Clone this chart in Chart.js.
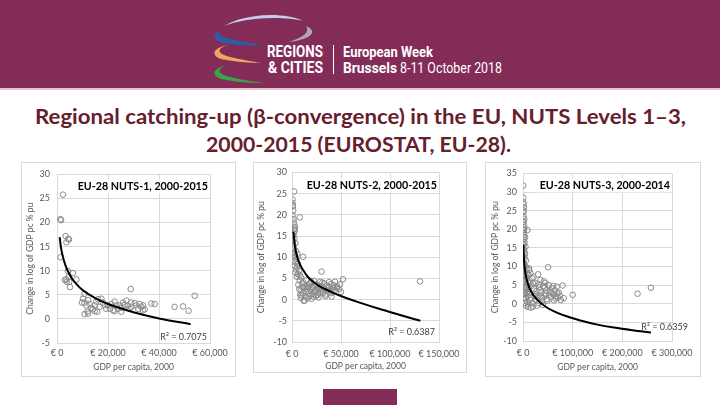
<!DOCTYPE html>
<html>
<head>
<meta charset="utf-8">
<title>Regional catching-up</title>
<script src="https://cdn.jsdelivr.net/npm/chart.js@4.4.1/dist/chart.umd.min.js"></script>
<style>
  html, body { margin: 0; padding: 0; }
  body { width: 720px; height: 405px; position: relative; overflow: hidden; background: #fff; }
  .abs { position: absolute; white-space: nowrap; transform-origin: 0 0; }
  #banner { left: 0; top: 0; width: 720px; height: 88px; background: #842c58; }
  #bannerEdge { left: 0; top: 88px; width: 720px; height: 2px; background: #e7c4d4; }
  .logo { font-family: Roboto, sans-serif; color: #fff; }
  .ttl { font: bold 21px/25px Lato, sans-serif; color: #66202c; }
  .panel { border: 1px solid #d9d9d9; box-sizing: border-box; }
  #footBar { left: 323px; top: 389px; width: 74px; height: 16px; background: #842c58; }
</style>
</head>
<body>
<div id="banner" class="abs"></div>
<div id="bannerEdge" class="abs"></div>
<svg class="abs" style="left:0;top:0" width="720" height="88">
  <path d="M224,26 C245,13 285,12 303,21 C285,16 245,17 224,26 Z" fill="#c4cce9"/>
  <path d="M227,29 C213,32 210,38 221,42 C234,46 250,46 263,45 C248,43 232,40 224,37 C217,34 218,31 227,29 Z" fill="#2d5ca8"/>
  <path d="M306,26 C318,31 313,39 289,42 C304,37 310,32 306,26 Z" fill="#a8a9b3"/>
  <path d="M228,45 C213,48 210,55 221,59 C234,62 250,63 263,63 C248,61 232,58 224,55 C217,52 218,48 228,45 Z" fill="#f3a465"/>
  <path d="M228,65 C213,68 210,75 221,79 C234,82 250,83 264,83 C248,81 232,78 224,75 C217,72 218,68 228,65 Z" fill="#3ca24c"/>
  <line x1="333.5" y1="45" x2="333.5" y2="74" stroke="#fff" stroke-width="1"/>
</svg>
<div class="abs logo" data-w="56" style="left:267px;top:41px;font-weight:bold;font-size:17px;line-height:20px">REGIONS</div>
<div class="abs logo" data-w="55" style="left:268px;top:57px;font-weight:bold;font-size:17px;line-height:20px">&amp; CITIES</div>
<div class="abs logo" data-w="90" style="left:343px;top:43px;font-weight:bold;font-size:15px;line-height:18px">European Week</div>
<div class="abs logo" data-w="54" style="left:343px;top:59px;font-weight:bold;font-size:15px;line-height:18px">Brussels</div>
<div class="abs logo" data-w="102" style="left:400px;top:59px;font-size:15px;line-height:18px">8-11 October 2018</div>

<div class="abs ttl" data-w="651" style="left:35px;top:103px">Regional catching-up (β-convergence) in the EU, NUTS Levels 1–3,</div>
<div class="abs ttl" data-w="305" style="left:206px;top:131px">2000-2015 (EUROSTAT, EU-28).</div>

<div class="abs panel" style="left:21px;top:162px;width:215px;height:215px"></div>
<div class="abs panel" style="left:253px;top:162px;width:214px;height:211px"></div>
<div class="abs panel" style="left:485px;top:162px;width:216px;height:215px"></div>
<canvas id="c1" class="abs" width="215" height="215" style="left:21px;top:162px"></canvas>
<canvas id="c2" class="abs" width="214" height="211" style="left:253px;top:162px"></canvas>
<canvas id="c3" class="abs" width="216" height="215" style="left:485px;top:162px"></canvas>

<div id="footBar" class="abs"></div>

<script>
// NUTS-1 regions: GDP per capita 2000 (EUR) and change in log GDP pc (% pu)
const nuts1X = [2350, 1300, 1600, 3400, 4400, 3700, 4700, 1400, 4300, 6300, 4600, 3100, 4800, 3800, 5100, 3700, 7600,
  10800, 10200, 9800, 10800, 12200, 12800, 11500, 13500, 14800, 15400, 16100, 17400, 18000, 18700, 20000, 20700,
  21300, 22600, 23300, 23900, 25200, 26500, 27200, 27800, 29100, 30500, 31100, 31800, 32400, 33700, 34400, 33100,
  29100, 25900, 24600, 22000, 19300, 16700, 14800, 14100, 12200, 10800, 11900, 15800, 22600, 25200, 28500, 33700,
  28900, 37000, 38300, 46100, 49400, 51600, 54000];
const nuts1Y = [25.8, 20.7, 20.5, 17.2, 16.6, 15.9, 16.5, 12.8, 9.9, 9.5, 8.7, 8.1, 7.7, 7.7, 6.6, 8.2, 8.2,
  5.2, 4.2, 3.4, 3.4, 3.9, 3.1, 2.8, 2.3, 2.8, 3.6, 4.1, 4.2, 3.4, 2.9, 2.8, 2.1,
  3.1, 3.6, 2.8, 2.1, 2.3, 2.9, 3.8, 2.8, 2.5, 3.3, 2.8, 2.1, 3.1, 2.8, 2.0, 2.5,
  3.4, 3.4, 2.8, 1.8, 2.1, 2.5, 1.6, 2.0, 1.1, 1.0, 1.5, 1.5, 1.6, 1.5, 2.1, 1.8,
  6.2, 3.2, 3.1, 2.5, 2.6, 1.7, 4.8];
const nuts1TrendX = [1050, 1500, 2000, 3000, 4000, 6000, 8000, 10000, 15000, 20000, 30000, 40000, 52400];
const nuts1TrendY = [17.0, 15.0, 13.6, 11.6, 10.2, 8.3, 7.0, 6.0, 4.3, 3.1, 1.4, 0.1, -1.1];

// NUTS-2 regions
const nuts2X = [2050, 500, 500, 800, 1000, 1200, 500, 1500, 2000, 2500, 3000, 2200, 2800, 1800, 1200, 2500, 1000, 3500,
  1500, 2000, 4000, 1200, 3000, 5500, 2500, 4500, 1800, 3500, 6000, 2800, 5000, 4000, 7000, 3500, 6000, 8000, 5000,
  9000, 7900, 11300,
  7900, 10300, 12300, 8900, 11000, 13700, 15800, 13000, 17100, 19200, 20600, 18500, 22600, 25000, 27400, 29500,
  31500, 33600, 35600, 37700, 39700, 41800, 43800, 45900, 47900, 50000, 26000, 21900, 28800, 32900, 36300, 39700,
  16400, 24000, 30100, 43800, 49000, 19900, 34200, 40400, 9500, 14500, 16000, 23000, 27000, 12000,
  6500, 7500, 8500, 9000, 10500, 11500, 13500, 14000, 15000, 17500, 18000, 19500, 21000, 22000, 23500, 24500,
  26500, 28000, 29000, 31000, 34000, 36000, 38000, 41000, 42500,
  30100, 52000, 130600, 46000];
const nuts2Y = [25.5, 23.6, 22.8, 22.2, 22.0, 21.0, 19.9, 19.0, 18.2, 17.5, 17.0, 16.6, 16.2, 15.6, 15.0, 14.4, 13.8, 13.3,
  12.8, 12.0, 11.5, 11.0, 10.5, 10.8, 10.0, 9.6, 9.2, 8.8, 8.5, 8.0, 7.6, 7.1, 6.8, 6.4, 6.0, 5.8, 5.4,
  5.3, 19.4, 10.1,
  4.5, 3.8, 2.8, 2.1, 1.5, 0.8, 0.3, -0.2, 1.5, 2.2, 3.0, 3.9, 4.4, 3.6, 2.8, 2.1,
  1.5, 2.4, 3.3, 4.1, 3.6, 2.8, 2.2, 3.2, 2.5, 1.8, 1.1, 0.7, 4.2, 3.8, 2.1, 1.5,
  3.0, 2.1, 3.2, 4.2, 3.6, 0.2, 0.8, 0.7, 1.0, 4.6, 2.0, 1.8, 0.5, -0.3,
  3.5, 2.5, 1.2, 0.4, 2.9, 4.1, 3.3, 1.8, 2.6, 3.6, 0.9, 4.3, 1.3, 2.7, 3.4, 0.9,
  2.4, 1.5, 3.0, 4.0, 1.2, 2.7, 3.0, 1.9, 3.4,
  6.6, 4.8, 4.3, 2.8];
const nuts2TrendX = [1500, 2000, 3000, 4500, 6500, 9000, 11500, 15000, 20000, 27000, 33500, 42000, 50500, 67500, 88000, 108500, 131000];
const nuts2TrendY = [16.0, 14.6, 12.6, 10.8, 9.2, 7.9, 6.9, 5.7, 4.5, 3.3, 2.5, 1.6, 0.8, -0.6, -2.1, -3.5, -5.0];

// NUTS-3 regions
const nuts3X = [500, 400, 800, 1500, 2000, 1200, 600, 1000, 2500, 1500, 800, 3000, 2000, 8800, 1200, 2500, 4000, 1000,
  3000, 1800, 5000, 800, 2500, 4000, 1500, 3500, 6000, 1000, 2800, 5000, 7000, 2000, 4000, 9000, 1500, 6000, 3000,
  10000, 5000, 8000, 2500, 12000, 4000, 7000, 1800, 9000, 5000, 14000, 8000, 11000, 6000, 16000, 20000,
  300, 700, 1100, 400, 900, 300, 1300, 600, 2200, 1600, 3200, 700, 2600, 3800, 4500, 6500, 7500, 9500, 11000,
  13000, 10500, 12500,
  12000, 15000, 18000, 20000, 22000, 24000, 26000, 28000, 30400, 32000, 34000, 36000, 38000, 40000, 42000, 44000,
  46000, 48000, 50700, 52000, 54000, 56000, 58000, 60000, 62000, 64000, 66000, 68000, 70000, 72000, 74000, 76000,
  79700, 82000, 100000, 230600, 257600, 13000, 16000, 17000, 19000, 21000, 23000, 25000, 27000, 29000, 31000,
  33000, 35000, 37000, 39000, 41000, 43000, 45000, 47000, 49000, 53000, 57000, 61000, 65000, 69000];
const nuts3Y = [31.7, 28.5, 27.2, 26.7, 25.9, 25.0, 24.6, 23.5, 22.8, 22.0, 21.2, 20.5, 19.8, 19.8, 19.0, 18.4, 17.8, 17.2,
  16.5, 15.9, 15.3, 14.7, 14.0, 13.4, 12.8, 12.2, 11.6, 11.0, 10.4, 10.0, 9.5, 9.0, 8.5, 8.0, 7.5, 7.0, 6.5,
  6.0, 5.5, 5.0, 4.5, 4.0, 3.5, 3.0, 2.5, 2.0, 1.5, 1.0, 0.5, 0.0, -0.5, -1.0, -0.8,
  22.0, 20.0, 18.0, 16.0, 14.5, 12.5, 10.5, 9.0, 8.0, 6.0, 4.5, 3.0, 1.5, 0.2, 2.6, 4.2, 6.6, 3.3, 7.6,
  5.6, -0.9, 9.0,
  9.5, 8.2, 6.8, 5.5, 4.0, 2.5, 1.0, -0.5, 7.9, 5.2, 3.6, 2.0, 0.6, -0.3, 6.0, 4.4,
  2.8, 1.2, 9.8, 5.0, 3.3, 1.8, 4.2, 2.6, 0.9, 3.6, 2.0, 4.6, 1.6, 3.0, 2.2, 1.0,
  4.9, 1.5, 2.4, 2.7, 4.3, 3.0, 1.6, 4.8, 0.2, 7.2, 2.0, 5.6, 3.4, 1.8, 0.2,
  4.5, 6.4, 3.0, 1.5, 4.8, 2.2, 5.6, 3.6, 0.8, 2.4, 3.0, 4.8, 1.4, 2.8];
const nuts3TrendX = [700, 1000, 1500, 2000, 3000, 4000, 6000, 8000, 10800, 15000, 20900, 30000, 48000, 81800, 115600, 150000, 183100, 220000, 257600];
const nuts3TrendY = [15.9, 14.5, 12.9, 11.7, 10.1, 8.9, 7.3, 6.2, 5.0, 3.6, 2.3, 0.9, -1.0, -3.1, -4.5, -5.6, -6.4, -7.1, -7.7];

const panelTitles = ['EU-28 NUTS-1, 2000-2015', 'EU-28 NUTS-2, 2000-2015', 'EU-28 NUTS-3, 2000-2014'];
const r2Labels = ['R² = 0.7075', 'R² = 0.6387', 'R² = 0.6359'];
const xAxisMax = [60000, 150000, 300000];
const xAxisStep = [20000, 50000, 100000];
const yAxisMin = [-5, -10, -10];
const yAxisMax = [30, 30, 35];

// fit the header texts to the widths on the slide
document.querySelectorAll('[data-w]').forEach(el => {
  const w = el.getBoundingClientRect().width;
  el.style.transform = 'scaleX(' + (Number(el.dataset.w) / w) + ')';
});

Chart.defaults.font.family = 'Lato, sans-serif';
Chart.defaults.color = '#595959';

// chart title inside the plot and the R² note of the trendline
const panelText = {
  id: 'panelText',
  afterDatasetsDraw(chart, args, o) {
    const { ctx, chartArea: a } = chart;
    ctx.save();
    ctx.textAlign = 'right';
    ctx.textBaseline = 'middle';
    ctx.font = 'bold 10.7px Lato';
    const w = ctx.measureText(o.title).width;
    ctx.fillStyle = '#fff';
    ctx.fillRect(a.right - 2 - w - 2, a.top + o.titleDy - 7, w + 3, 14);
    ctx.fillStyle = '#000';
    ctx.fillText(o.title, a.right - 2, a.top + o.titleDy);
    ctx.font = '9px Lato';
    ctx.fillStyle = '#404040';
    ctx.fillText(o.r2, a.right + o.r2Dx, a.bottom + o.r2Dy);
    ctx.restore();
  }
};

function buildPanel(id, i, xs, ys, tx, ty, s) {
  const pts = xs.map((x, k) => ({ x: x, y: ys[k] }));
  const trend = tx.map((x, k) => ({ x: x, y: ty[k] }));
  return new Chart(document.getElementById(id), {
    type: 'scatter',
    data: {
      datasets: [
        { data: trend, showLine: true, borderColor: '#000', borderWidth: 2, pointRadius: 0,
          cubicInterpolationMode: 'monotone', order: 0 },
        { data: pts, pointRadius: 2.8, borderWidth: 1, borderColor: '#8a8a8a',
          backgroundColor: 'rgba(255,255,255,0)', order: 1 }
      ]
    },
    options: {
      responsive: false,
      animation: false,
      devicePixelRatio: 1,
      layout: { padding: { left: 0, top: s.padTop, right: s.padRight, bottom: 0 } },
      plugins: {
        legend: { display: false },
        tooltip: { enabled: false },
        panelText: { title: panelTitles[i], r2: r2Labels[i], titleDy: s.titleDy, r2Dx: s.r2Dx, r2Dy: s.r2Dy }
      },
      scales: {
        x: {
          type: 'linear', min: 0, max: xAxisMax[i],
          ticks: { stepSize: xAxisStep[i], padding: s.xTickPad, maxRotation: 0, autoSkip: false,
            font: { size: 9 }, callback: v => '€ ' + v.toLocaleString('en-US') },
          grid: { color: '#d9d9d9', drawTicks: false },
          border: { color: '#d9d9d9' },
          title: { display: true, text: 'GDP per capita, 2000', font: { size: 8.5 }, padding: { top: 0, bottom: s.xTitlePad } },
          afterFit: sc => { sc.height = s.xHeight; }
        },
        y: {
          min: yAxisMin[i], max: yAxisMax[i],
          ticks: { stepSize: 5, padding: s.yTickPad, font: { size: 9 } },
          grid: { color: '#d9d9d9', drawTicks: false },
          border: { color: '#d9d9d9' },
          title: { display: true, text: 'Change in log of GDP pc % pu', font: { size: 8.5 }, padding: { top: s.yTitlePad, bottom: 0 } },
          afterFit: sc => { sc.width = s.yWidth; }
        }
      }
    },
    plugins: [panelText]
  });
}

buildPanel('c1', 0, nuts1X, nuts1Y, nuts1TrendX, nuts1TrendY,
  { padTop: 7, padRight: 26, xHeight: 34, yWidth: 36, xTickPad: 5, yTickPad: 7, xTitlePad: 5, yTitlePad: 4,
    titleDy: 12, r2Dx: -3, r2Dy: -6 });
buildPanel('c2', 1, nuts2X, nuts2Y, nuts2TrendX, nuts2TrendY,
  { padTop: 6, padRight: 28, xHeight: 31, yWidth: 39, xTickPad: 7, yTickPad: 5, xTitlePad: 2, yTitlePad: 3,
    titleDy: 13, r2Dx: -4, r2Dy: -10 });
buildPanel('c3', 2, nuts3X, nuts3Y, nuts3TrendX, nuts3TrendY,
  { padTop: 6, padRight: 29, xHeight: 36, yWidth: 38, xTickPad: 7, yTickPad: 6, xTitlePad: 5, yTitlePad: 5,
    titleDy: 12, r2Dx: 16, r2Dy: -14 });
</script>
</body>
</html>
